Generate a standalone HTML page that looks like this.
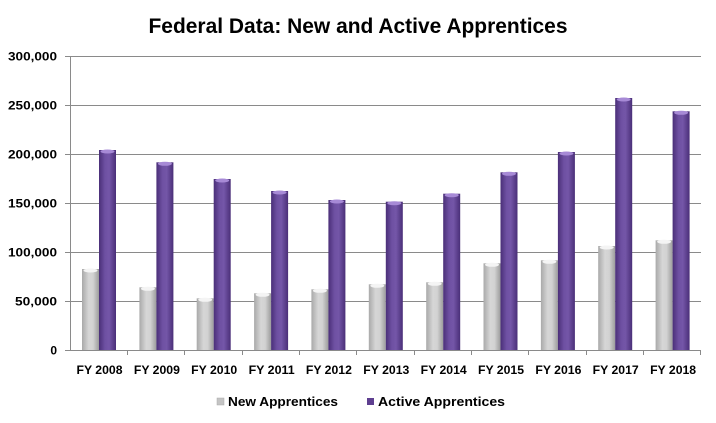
<!DOCTYPE html>
<html>
<head>
<meta charset="utf-8">
<style>
html,body{margin:0;padding:0;background:#fff;}
svg{display:block;}
text{font-family:"Liberation Sans",Arial,sans-serif;font-weight:bold;fill:#000;}
</style>
</head>
<body>
<svg width="716" height="423" viewBox="0 0 716 423" xmlns="http://www.w3.org/2000/svg">
<defs>
<linearGradient id="gP" x1="0" x2="1" y1="0" y2="0">
<stop offset="0" stop-color="#4a2f78"/>
<stop offset="0.35" stop-color="#6e50a2"/>
<stop offset="0.6" stop-color="#7456a8"/>
<stop offset="1" stop-color="#4a2f78"/>
</linearGradient>
<linearGradient id="gG" x1="0" x2="1" y1="0" y2="0">
<stop offset="0" stop-color="#a9a9a9"/>
<stop offset="0.4" stop-color="#d6d6d6"/>
<stop offset="0.65" stop-color="#d2d2d2"/>
<stop offset="1" stop-color="#9c9c9c"/>
</linearGradient>
</defs>
<rect width="716" height="423" fill="#fff"/>
<text x="358" y="33" font-size="21" text-anchor="middle" textLength="419" lengthAdjust="spacingAndGlyphs">Federal Data: New and Active Apprentices</text>

<g stroke="#8a8a8a" stroke-width="1">
<line x1="70" y1="56.5" x2="701" y2="56.5"/>
<line x1="70" y1="105.5" x2="701" y2="105.5"/>
<line x1="70" y1="154.5" x2="701" y2="154.5"/>
<line x1="70" y1="203.5" x2="701" y2="203.5"/>
<line x1="70" y1="252.5" x2="701" y2="252.5"/>
<line x1="70" y1="301.5" x2="701" y2="301.5"/>
<line x1="70" y1="350.5" x2="701" y2="350.5"/>
<line x1="70.5" y1="56" x2="70.5" y2="351"/>
<line x1="65" y1="56.5" x2="70" y2="56.5"/>
<line x1="65" y1="105.5" x2="70" y2="105.5"/>
<line x1="65" y1="154.5" x2="70" y2="154.5"/>
<line x1="65" y1="203.5" x2="70" y2="203.5"/>
<line x1="65" y1="252.5" x2="70" y2="252.5"/>
<line x1="65" y1="301.5" x2="70" y2="301.5"/>
<line x1="65" y1="350.5" x2="70" y2="350.5"/>
<line x1="127.5" y1="350" x2="127.5" y2="355"/>
<line x1="184.5" y1="350" x2="184.5" y2="355"/>
<line x1="242.5" y1="350" x2="242.5" y2="355"/>
<line x1="299.5" y1="350" x2="299.5" y2="355"/>
<line x1="356.5" y1="350" x2="356.5" y2="355"/>
<line x1="414.5" y1="350" x2="414.5" y2="355"/>
<line x1="471.5" y1="350" x2="471.5" y2="355"/>
<line x1="528.5" y1="350" x2="528.5" y2="355"/>
<line x1="586.5" y1="350" x2="586.5" y2="355"/>
<line x1="643.5" y1="350" x2="643.5" y2="355"/>
<line x1="700.5" y1="350" x2="700.5" y2="355"/>
</g>

<g font-size="12" text-anchor="end">
<text x="57" y="60.5" textLength="49" lengthAdjust="spacingAndGlyphs">300,000</text>
<text x="57" y="109.5" textLength="49" lengthAdjust="spacingAndGlyphs">250,000</text>
<text x="57" y="158.5" textLength="49" lengthAdjust="spacingAndGlyphs">200,000</text>
<text x="57" y="207.5" textLength="49" lengthAdjust="spacingAndGlyphs">150,000</text>
<text x="57" y="256.5" textLength="49" lengthAdjust="spacingAndGlyphs">100,000</text>
<text x="57" y="305.5" textLength="42" lengthAdjust="spacingAndGlyphs">50,000</text>
<text x="57" y="354.5">0</text>
</g>

<g id="bars">
<rect x="82" y="269" width="17" height="81" fill="url(#gG)"/>
<rect x="99" y="150" width="17" height="200" fill="url(#gP)"/>
<rect x="139.4" y="287.3" width="17" height="62.7" fill="url(#gG)"/>
<rect x="156.4" y="162.3" width="17" height="187.7" fill="url(#gP)"/>
<rect x="196.7" y="298.3" width="17" height="51.7" fill="url(#gG)"/>
<rect x="213.7" y="179" width="17" height="171" fill="url(#gP)"/>
<rect x="254.1" y="293.3" width="17" height="56.7" fill="url(#gG)"/>
<rect x="271.1" y="191" width="17" height="159" fill="url(#gP)"/>
<rect x="311.4" y="289.3" width="17" height="60.7" fill="url(#gG)"/>
<rect x="328.4" y="200" width="17" height="150" fill="url(#gP)"/>
<rect x="368.8" y="284.3" width="17" height="65.7" fill="url(#gG)"/>
<rect x="385.8" y="201.7" width="17" height="148.3" fill="url(#gP)"/>
<rect x="426.2" y="282.3" width="17" height="67.7" fill="url(#gG)"/>
<rect x="443.2" y="193.7" width="17" height="156.3" fill="url(#gP)"/>
<rect x="483.5" y="263.3" width="17" height="86.7" fill="url(#gG)"/>
<rect x="500.5" y="172.3" width="17" height="177.7" fill="url(#gP)"/>
<rect x="540.9" y="260.3" width="17" height="89.7" fill="url(#gG)"/>
<rect x="557.9" y="152" width="17" height="198" fill="url(#gP)"/>
<rect x="598.2" y="246" width="17" height="104" fill="url(#gG)"/>
<rect x="615.2" y="98" width="17" height="252" fill="url(#gP)"/>
<rect x="655.6" y="240.3" width="17" height="109.7" fill="url(#gG)"/>
<rect x="672.6" y="111.3" width="17" height="238.7" fill="url(#gP)"/>
</g>

<g>
<ellipse cx="90.5" cy="270.5" rx="7" ry="2" fill="#f4f4f4"/>
<ellipse cx="107.5" cy="151.5" rx="7" ry="2" fill="#a78ad6"/>
<ellipse cx="147.9" cy="288.8" rx="7" ry="2" fill="#f4f4f4"/>
<ellipse cx="164.9" cy="163.8" rx="7" ry="2" fill="#a78ad6"/>
<ellipse cx="205.2" cy="299.8" rx="7" ry="2" fill="#f4f4f4"/>
<ellipse cx="222.2" cy="180.5" rx="7" ry="2" fill="#a78ad6"/>
<ellipse cx="262.6" cy="294.8" rx="7" ry="2" fill="#f4f4f4"/>
<ellipse cx="279.6" cy="192.5" rx="7" ry="2" fill="#a78ad6"/>
<ellipse cx="319.9" cy="290.8" rx="7" ry="2" fill="#f4f4f4"/>
<ellipse cx="336.9" cy="201.5" rx="7" ry="2" fill="#a78ad6"/>
<ellipse cx="377.3" cy="285.8" rx="7" ry="2" fill="#f4f4f4"/>
<ellipse cx="394.3" cy="203.2" rx="7" ry="2" fill="#a78ad6"/>
<ellipse cx="434.7" cy="283.8" rx="7" ry="2" fill="#f4f4f4"/>
<ellipse cx="451.7" cy="195.2" rx="7" ry="2" fill="#a78ad6"/>
<ellipse cx="492" cy="264.8" rx="7" ry="2" fill="#f4f4f4"/>
<ellipse cx="509" cy="173.8" rx="7" ry="2" fill="#a78ad6"/>
<ellipse cx="549.4" cy="261.8" rx="7" ry="2" fill="#f4f4f4"/>
<ellipse cx="566.4" cy="153.5" rx="7" ry="2" fill="#a78ad6"/>
<ellipse cx="606.7" cy="247.5" rx="7" ry="2" fill="#f4f4f4"/>
<ellipse cx="623.7" cy="99.5" rx="7" ry="2" fill="#a78ad6"/>
<ellipse cx="664.1" cy="241.8" rx="7" ry="2" fill="#f4f4f4"/>
<ellipse cx="681.1" cy="112.8" rx="7" ry="2" fill="#a78ad6"/>
</g>

<g font-size="12" text-anchor="middle">
<text x="99.5" y="374" textLength="46" lengthAdjust="spacingAndGlyphs">FY 2008</text>
<text x="156.9" y="374" textLength="46" lengthAdjust="spacingAndGlyphs">FY 2009</text>
<text x="214.2" y="374" textLength="46" lengthAdjust="spacingAndGlyphs">FY 2010</text>
<text x="271.6" y="374" textLength="46" lengthAdjust="spacingAndGlyphs">FY 2011</text>
<text x="328.9" y="374" textLength="46" lengthAdjust="spacingAndGlyphs">FY 2012</text>
<text x="386.3" y="374" textLength="46" lengthAdjust="spacingAndGlyphs">FY 2013</text>
<text x="443.7" y="374" textLength="46" lengthAdjust="spacingAndGlyphs">FY 2014</text>
<text x="501" y="374" textLength="46" lengthAdjust="spacingAndGlyphs">FY 2015</text>
<text x="558.4" y="374" textLength="46" lengthAdjust="spacingAndGlyphs">FY 2016</text>
<text x="615.7" y="374" textLength="46" lengthAdjust="spacingAndGlyphs">FY 2017</text>
<text x="673.1" y="374" textLength="46" lengthAdjust="spacingAndGlyphs">FY 2018</text>
</g>

<rect x="217" y="398" width="7" height="7" fill="#c4c4c4" stroke="#aaaaaa" stroke-width="0.5"/>
<text x="228" y="406" font-size="13" textLength="110" lengthAdjust="spacingAndGlyphs">New Apprentices</text>
<rect x="367" y="398" width="7" height="7" fill="#5e3f90"/>
<text x="378" y="406" font-size="13" textLength="127" lengthAdjust="spacingAndGlyphs">Active Apprentices</text>
</svg>
</body>
</html>
